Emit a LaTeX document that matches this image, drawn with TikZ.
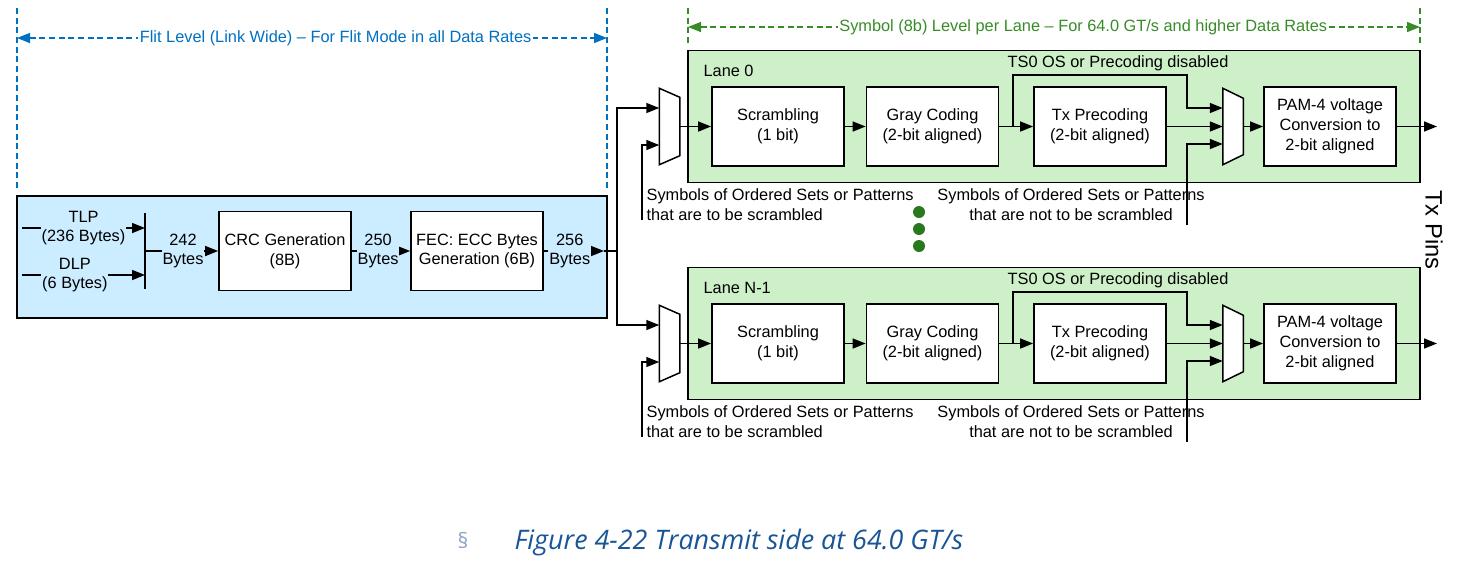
\documentclass[tikz,border=0pt]{standalone}
\usepackage{fontspec}
\setmainfont{Liberation Sans}
\newfontfamily\capfont{Open Sans}
\usetikzlibrary{arrows.meta}

\definecolor{flitblue}{RGB}{0,112,192}
\definecolor{flitfill}{RGB}{204,236,255}
\definecolor{symgreen}{RGB}{56,140,40}
\definecolor{lanefill}{RGB}{206,240,200}
\definecolor{dotgreen}{RGB}{40,120,30}
\definecolor{capblue}{RGB}{25,85,150}
\definecolor{sectgray}{RGB}{140,165,195}
\newcommand{\diagfont}{\fontsize{9.3}{11.3}\selectfont}

\begin{document}
\begin{tikzpicture}[
    >={Triangle[length=2.6mm,width=2mm]},
    line width=0.85pt,
    every node/.style={font=\diagfont},
    blk/.style={draw, line width=1pt, fill=white, align=center, minimum width=2.64cm, minimum height=1.58cm, inner sep=1pt},
    lanebox/.style={draw, line width=1pt, fill=lanefill, minimum width=14.64cm, minimum height=2.64cm},
    flitbox/.style={draw, line width=1pt, fill=flitfill, minimum width=11.8cm, minimum height=2.44cm},
    muxbox/.style={minimum width=0.38cm, minimum height=1.5cm, inner sep=0pt},
    lbl/.style={align=center, fill=flitfill, inner xsep=0.5pt, inner ysep=0pt},
    flitdim/.style={flitblue, dash pattern=on 3.5pt off 2pt},
    symdim/.style={symgreen, dash pattern=on 3.5pt off 2pt},
    dot/.style={circle, fill=dotgreen, minimum size=0.24cm, inner sep=0pt},
]
    \useasboundingbox (0,0) rectangle (29.16,-11.42);

    % flit level (link wide)
    \coordinate (fdTL) at (0.34,-0.16);
    \coordinate (fdBL) at (0.34,-3.76);
    \coordinate (fdTR) at (12.14,-0.16);
    \coordinate (fdBR) at (12.14,-3.76);
    \draw[flitdim] (fdTL) -- (fdBL);
    \draw[flitdim] (fdTR) -- (fdBR);
    \coordinate (fdL) at (0.34,-0.76);
    \coordinate (fdR) at (12.14,-0.76);
    \draw[flitdim,<->] (fdL) -- node[pos=0.54, fill=white, inner sep=1pt] (flitlbl) {Flit Level (Link Wide) – For Flit Mode in all Data Rates} (fdR);

    \node[flitbox] (flit) at (6.24,-5.14) {};
    \coordinate (barT) at (2.9,-4.26);
    \coordinate (barB) at (2.9,-5.78);
    \draw (barT) -- (barB);
    \coordinate (tlpin) at (0.44,-4.56);
    \coordinate (dlpin) at (0.44,-5.5);
    \draw[->] (tlpin) -- node[lbl] (tlp) {TLP\\(236 Bytes)} (tlpin -| barT);
    \draw[->] (dlpin) -- node[lbl, pos=0.43] (dlp) {DLP\\(6 Bytes)} (dlpin -| barT);

    \node[blk] (crc) at (5.7,-5.02) {CRC Generation\\(8B)};
    \node[blk] (fec) at (9.54,-5.02) {FEC: ECC Bytes\\Generation (6B)};
    \coordinate (j242) at (2.9,-5.02);
    \coordinate (tip256) at (12.08,-5.02);
    \coordinate (fork) at (12.34,-5.02);
    \draw[->] (j242) -- node[lbl, pos=0.52] (b242) {242\\Bytes} (crc);
    \draw[->] (crc) -- node[lbl, pos=0.45] (b250) {250\\Bytes} (fec);
    \draw[->] (fec) -- node[lbl, pos=0.43] (b256) {256\\Bytes} (tip256);
    \draw (tip256) -- (fork);

    % symbol level per lane
    \coordinate (sdTL) at (13.76,-0.16);
    \coordinate (sdBL) at (13.76,-0.9);
    \coordinate (sdTR) at (28.4,-0.16);
    \coordinate (sdBR) at (28.4,-0.9);
    \draw[symdim] (sdTL) -- (sdBL);
    \draw[symdim] (sdTR) -- (sdBR);
    \coordinate (sdL) at (13.76,-0.54);
    \coordinate (sdR) at (28.4,-0.54);
    \draw[symdim,<->] (sdL) -- node[pos=0.54, fill=white, inner sep=1pt] (symlbl) {Symbol (8b) Level per Lane – For 64.0 GT/s and higher Data Rates} (sdR);

    \foreach \n/\dy/\ttl in {0/0/Lane 0, 1/-4.34/Lane N-1}{
    \begin{scope}[yshift=\dy cm]
        \node[lanebox] (lane\n) at (21.08,-2.33) {};
        \node[anchor=west] (name\n) at (13.94,-1.42) {\ttl};
        \node[muxbox] (muxa\n) at (13.39,-2.53) {};
        \draw[fill=white] (muxa\n.north west) -- ([yshift=-0.18cm]muxa\n.north east) -- ([yshift=0.18cm]muxa\n.south east) -- (muxa\n.south west) -- cycle;
        \node[blk] (scr\n) at (15.56,-2.53) {Scrambling\\(1 bit)};
        \node[blk] (gray\n) at (18.65,-2.53) {Gray Coding\\(2-bit aligned)};
        \node[blk] (pre\n) at (22.0,-2.53) {Tx Precoding\\(2-bit aligned)};
        \node[muxbox] (muxb\n) at (24.66,-2.53) {};
        \draw[fill=white] (muxb\n.north west) -- ([yshift=-0.2cm]muxb\n.north east) -- ([yshift=0.2cm]muxb\n.south east) -- (muxb\n.south west) -- cycle;
        \node[blk] (pam\n) at (26.6,-2.53) {PAM-4 voltage\\Conversion to\\2-bit aligned};
        \node (ts\n) at (22.36,-1.26) {TS0 OS or Precoding disabled};
        \node[anchor=west, align=left] (scrm\n) at (12.8,-4.1) {Symbols of Ordered Sets or Patterns\\that are to be scrambled};
        \node[align=center] (nscrm\n) at (21.42,-4.1) {Symbols of Ordered Sets or Patterns\\that are not to be scrambled};
        \coordinate (sa\n) at (12.84,-4.4);
        \coordinate (sb\n) at (23.74,-4.5);
        \coordinate (br\n) at (20.26,-2.53);
        \coordinate (bt\n) at (23.74,-1.5);
        \coordinate (out\n) at (28.74,-2.53);
        \draw[->] (muxa\n) -- (scr\n);
        \draw[->] (scr\n) -- (gray\n);
        \draw[->] (gray\n) -- (pre\n);
        \draw[->] (br\n) |- (bt\n) |- ([yshift=0.37cm]muxb\n.west);
        \draw[->] (pre\n) -- (muxb\n);
        \draw[->] (sb\n) |- ([yshift=-0.35cm]muxb\n.west);
        \draw[->] (muxb\n) -- (pam\n);
        \draw[->] (pam\n) -- (out\n);
        \draw[->] (sa\n) |- ([yshift=-0.37cm]muxa\n.west);
        \draw[->] (fork) |- ([yshift=0.37cm]muxa\n.west);
    \end{scope}
    }

    \foreach \k in {0,1,2}
        \node[dot] (dot\k) at (18.38,{-4.24-0.34*\k}) {};

    \node[rotate=-90, font=\fontsize{13.5}{16}\selectfont] (pins) at (28.68,-4.6) {Tx Pins};

    \node[text=sectgray, font=\capfont\fontsize{12}{14}\selectfont] (sect) at (9.26,-10.8) {§};
    \node[anchor=west, text=capblue, font=\capfont\itshape\fontsize{15.3}{18}\selectfont] (cap) at (10.16,-10.86) {Figure 4-22 Transmit side at 64.0 GT/s};
\end{tikzpicture}
\end{document}
